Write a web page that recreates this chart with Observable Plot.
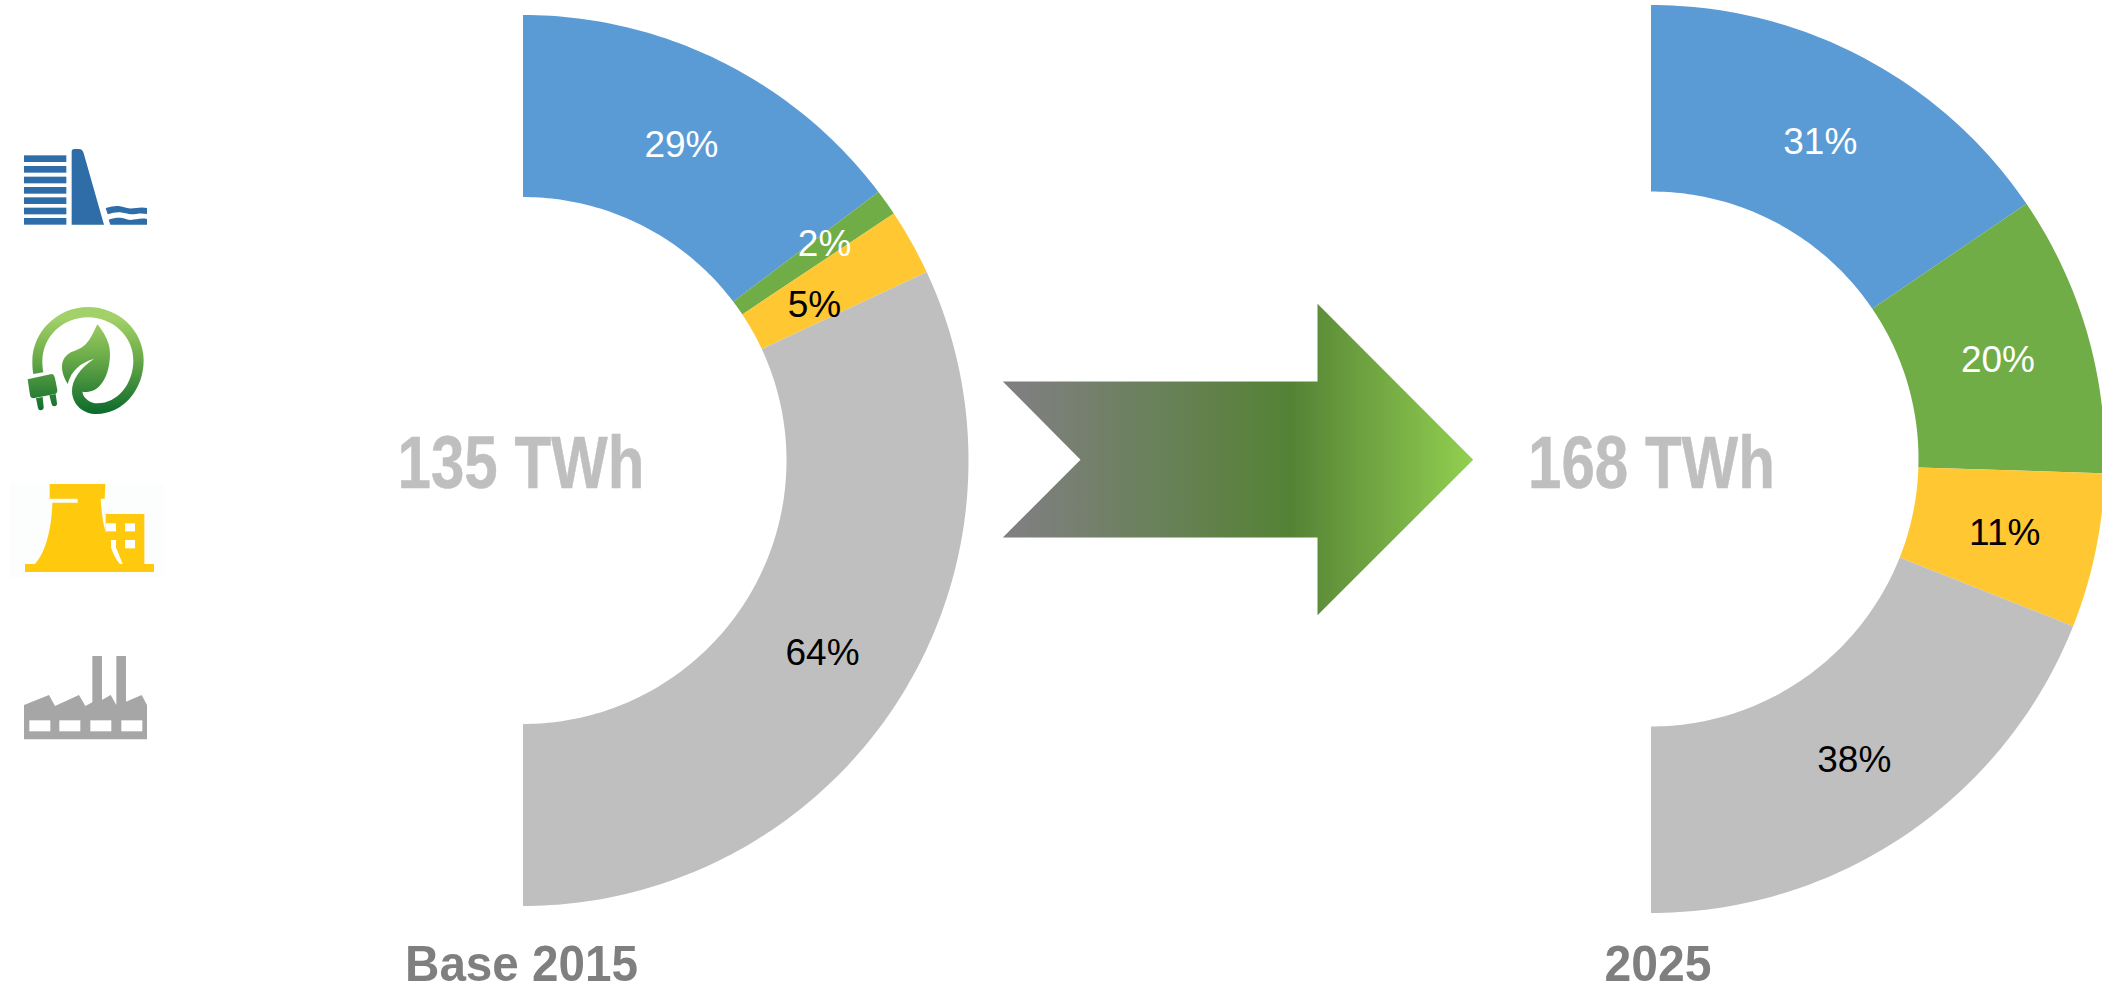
<!DOCTYPE html>
<html>
<head>
<meta charset="utf-8">
<script src="https://cdn.jsdelivr.net/npm/d3@7"></script>
<script src="https://cdn.jsdelivr.net/npm/@observablehq/plot@0.6"></script>
<style>
html,body{margin:0;padding:0;background:#fff;overflow:hidden}
svg{display:block}
</style>
</head>
<body>
<div id="chart"></div>
<script>
// ---- data ----
const categories = ["Hydro", "Renewables", "Nuclear", "Thermal"];
const shares2015 = [29.4, 1.9, 4.8, 63.9];
const shares2025 = [31, 20, 11, 38];
const labels2015 = ["29%", "2%", "5%", "64%"];
const labels2025 = ["31%", "20%", "11%", "38%"];
const periods = ["Base 2015", "2025"];
const totals = ["135 TWh", "168 TWh"];

// ---- style and layout ----
const colors = ["#5B9BD5", "#70AD47", "#FFC731", "#BFBFBF"];
const labelColors = ["#fff", "#fff", "#000", "#000"];
const W = 2102, H = 984;
const donuts = [
  {period: periods[0], total: totals[0], shares: shares2015, labels: labels2015, cx: 523, cy: 460.5, r0: 263.5, r1: 445.5, nudge: [[0,2],[12,-12],[-18,18],[0,2]], px: 521, tx: 520.5, totalLen: 247, periodLen: 233},
  {period: periods[1], total: totals[1], shares: shares2025, labels: labels2025, cx: 1651, cy: 459, r0: 267.5, r1: 454, nudge: [[0,1],[0,1],[0,1],[0,2]], px: 1657.5, tx: 1651, totalLen: 247, periodLen: 107}
];

const polar = (d, r, pct) => {
  const a = pct / 100 * Math.PI;
  return [d.cx + r * Math.sin(a), d.cy - r * Math.cos(a)];
};

const arcRows = [], labelRows = [];
for (const d of donuts) {
  let start = 0;
  d.shares.forEach((v, i) => {
    const end = start + v;
    const n = Math.max(8, Math.ceil(v * 2));
    for (let k = 0; k <= n; ++k) {
      const pct = start + (end - start) * k / n;
      const [x1, y1] = polar(d, d.r1, pct);
      const [x2, y2] = polar(d, d.r0, pct);
      arcRows.push({key: d.period + categories[i], category: categories[i], x1, y1, x2, y2});
    }
    const [lx, ly] = polar(d, (d.r0 + d.r1) / 2, (start + end) / 2);
    labelRows.push({x: lx + d.nudge[i][0], y: ly + d.nudge[i][1], text: d.labels[i], color: labelColors[i]});
    start = end;
  });
}

const arrowPts = [[1002.3,381],[1317,381],[1317,303.3],[1472.7,459.3],[1317,614.7],[1317,537],[1002.3,537],[1080,459.3],[1002.3,381]];

const defs = () => {
  const g = d3.create("svg:defs");
  const a = g.append("linearGradient").attr("id", "arrowGrad");
  a.append("stop").attr("offset", "0.04").attr("stop-color", "#7F7F7F");
  a.append("stop").attr("offset", "0.61").attr("stop-color", "#548235");
  a.append("stop").attr("offset", "1").attr("stop-color", "#92D050");
  const l = g.append("linearGradient").attr("id", "leafGrad").attr("gradientUnits","userSpaceOnUse").attr("x1",0).attr("x2",0).attr("y1",561).attr("y2",882);
  l.append("stop").attr("offset", "0.1").attr("stop-color", "#A3D169");
  l.append("stop").attr("offset", "0.45").attr("stop-color", "#6FAE4A");
  l.append("stop").attr("offset", "1").attr("stop-color", "#0B6A2B");
  return g.node();
};

const icons = () => {
  const root = d3.create("svg:g");
  // hydro dam
  const top = root.append("g").attr("transform", "translate(0,120) scale(0.33333)");
  const blue = "#2E6DA8";
  for (const y of [106,138,170,201,232,263,294])
    top.append("rect").attr("x",72).attr("y",y).attr("width",127).attr("height",20).attr("fill",blue);
  top.append("path").attr("fill",blue).attr("d","M215 314L215 95Q215 87 223 87L236 87Q248 87 251 100L312 314Z");
  top.append("path").attr("fill",blue).attr("d","M317 264C345 256 355 256 378 263C400 270 415 258 441 264L441 282C415 276 400 287 378 280C355 274 345 276 323 283Z");
  top.append("path").attr("fill",blue).attr("d","M326 299C350 292 360 292 380 298C400 304 415 292 441 297L441 314L331 314Z");
  // leaf and plug
  top.append("path").attr("fill","url(#leafGrad)").attr("d","M292 613C270 660 260 680 225 692C190 702 170 735 203 792C215 750 240 730 282 716C240 745 215 780 216 815C218 855 250 882 290 882C368 882 431 810 431 721C431 632 356 561 264 561C172 561 97 636 97 725C97 740 98 750 100 762L130 757C128 745 127 735 127 725C127 650 188 592 264 592C339 592 400 650 400 721C400 793 352 850 293 850C270 850 250 835 247 815C290 825 330 780 330 700C330 665 310 635 292 613Z");
  top.append("path").attr("fill","url(#leafGrad)").attr("d","M83 778L155 762Q162 762 165 775L172 810Q172 820 165 822L100 835Q92 835 90 825Z");
  top.append("path").attr("fill","url(#leafGrad)").attr("d","M108 835L128 831L131 862Q131 870 122 871Q115 871 114 864ZM148 826L167 822L171 850Q172 857 164 859Q157 860 155 853Z");
  // nuclear plant and factory
  const bot = root.append("g").attr("transform", "translate(0,460) scale(0.33333)");
  const yel = "#FFC90E";
  bot.append("rect").attr("x",30).attr("y",70).attr("width",460).attr("height",282).attr("fill","#FCFDFD");
  bot.append("rect").attr("x",317).attr("y",162).attr("width",116).attr("height",155).attr("fill",yel);
  bot.append("path").attr("fill","#fff").attr("d","M333 262L349 265L368 312L358 312C348 300 339 282 333 262Z");
  for (const [x,y,w,h] of [[375,190,30,24],[375,240,30,25],[318,190,30,24],[333,240,15,25]])
    bot.append("rect").attr("x",x).attr("y",y).attr("width",w).attr("height",h).attr("fill","#fff");
  bot.append("path").attr("fill",yel).attr("d","M149 72L316 72L314 116L302 116C305 170 312 200 317 215C325 255 340 290 360 312L462 312L462 336L75 336L75 312L105 312C135 280 155 210 157 128L233 128L233 116L149 116Z");
  const gray = "#A6A6A6";
  bot.append("path").attr("fill",gray).attr("d","M72 735L147 705L165 738L237 705L256 738L277 727L277 588L306 588L306 720L332 705L349 735L349 588L378 588L378 725L425 705L441 735L441 838L72 838Z");
  for (const x of [88,178,271,364])
    bot.append("rect").attr("x",x).attr("y",781).attr("width",63).attr("height",33).attr("fill","#fff");
  return root.node();
};

// squeeze a text mark to its measured width, as the narrow bold lettering of the reference
const fitWidth = (len) => (index, scales, values, dims, ctx, next) => {
  const g = next(index, scales, values, dims, ctx);
  d3.select(g).selectAll("text")
    .attr("textLength", (_, k) => len(donuts[index[k]]))
    .attr("lengthAdjust", "spacingAndGlyphs");
  return g;
};

const chart = Plot.plot({
  width: W, height: H,
  margin: 0,
  style: {background: "#fff", overflow: "hidden"},
  x: {axis: null, domain: [0, W], range: [0, W]},
  y: {axis: null, domain: [0, H], range: [0, H]},
  color: {domain: categories, range: colors},
  marks: [
    defs,
    Plot.area(arcRows, {x1: "x1", y1: "y1", x2: "x2", y2: "y2", z: "key", fill: "category"}),
    Plot.line(arrowPts, {x: d => d[0], y: d => d[1], fill: "url(#arrowGrad)", stroke: "none"}),
    icons,
    Plot.text(labelRows, {x: "x", y: "y", text: "text", fill: "color", fontSize: 37, fontFamily: "Liberation Sans", textAnchor: "middle", lineAnchor: "middle"}),
    Plot.text(donuts, {x: "tx", y: () => 463, text: "total", fill: "#BFBFBF", stroke: "#BFBFBF", strokeWidth: 0.5, fontSize: 75, fontWeight: 700, fontFamily: "Liberation Sans", textAnchor: "middle", lineAnchor: "middle", render: fitWidth(d => d.totalLen)}),
    Plot.text(donuts, {x: "px", y: () => 980, text: "period", fill: "#7F7F7F", fontSize: 50, fontWeight: 700, fontFamily: "Liberation Sans", textAnchor: "middle", lineAnchor: "bottom", render: fitWidth(d => d.periodLen)})
  ]
});
document.getElementById("chart").append(chart);
</script>
</body>
</html>
